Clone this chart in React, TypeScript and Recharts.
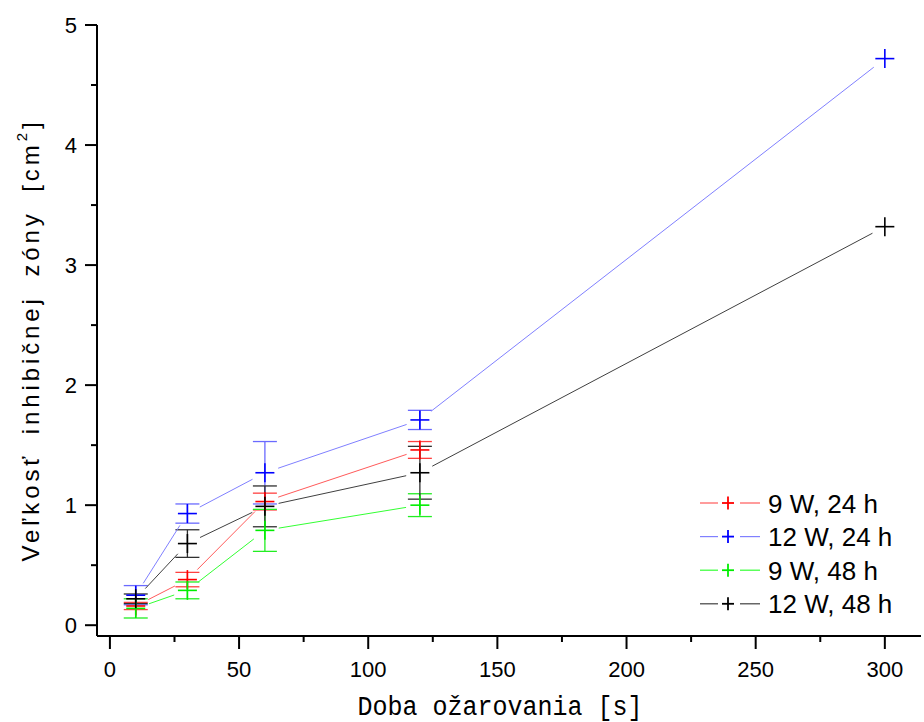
import React from 'react';
import { ScatterChart, Scatter, XAxis, YAxis, ErrorBar, Legend } from 'recharts';

// ---- data ----
const times = [10, 30, 60, 120, 300];
const seriesNames = ['9 W, 24 h', '12 W, 24 h', '9 W, 48 h', '12 W, 48 h'];
const w9h24 = [0.16, 0.38, 1.03, 1.46];
const w9h24Err = [0.03, 0.06, 0.07, 0.07];
const w12h24 = [0.25, 0.93, 1.27, 1.71, 4.72];
const w12h24Err = [0.08, 0.08, 0.26, 0.08, 0];
const w9h48 = [0.14, 0.29, 0.79, 1.0];
const w9h48Err = [0.08, 0.07, 0.175, 0.095];
const w12h48 = [0.22, 0.68, 0.99, 1.27, 3.32];
const w12h48Err = [0.04, 0.115, 0.17, 0.22, 0];
const xTicks = [0, 25, 50, 75, 100, 125, 150, 175, 200, 225, 250, 275, 300];
const yTicks = [0, 0.5, 1, 1.5, 2, 2.5, 3, 3.5, 4, 4.5, 5];

const markerColors = ['#ff0000', '#0000ff', '#00ee00', '#000000'];
const lineColors = ['#ff5a5a', '#8080ff', '#33ff33', '#404040'];
const errColors = ['#ff4040', '#6a6aff', '#22ee22', '#303030'];

const build = (vals: number[], errs: number[]) =>
  vals.map((v, i) => ({ x: times[i], y: v, err: errs[i] }));

const seriesData = [
  build(w9h24, w9h24Err),
  build(w12h24, w12h24Err),
  build(w9h48, w9h48Err),
  build(w12h48, w12h48Err),
];

const FONT = '"Liberation Sans", Arial, sans-serif';

const makeGapLine = (color: string, gap: number) => (props: any) => {
  const pts = (props.points || []) as { x: number; y: number }[];
  const segs: React.ReactNode[] = [];
  for (let i = 0; i < pts.length - 1; i++) {
    const p = pts[i];
    const q = pts[i + 1];
    const dx = q.x - p.x;
    const dy = q.y - p.y;
    const len = Math.sqrt(dx * dx + dy * dy);
    if (len <= 2 * gap) continue;
    const ux = dx / len;
    const uy = dy / len;
    segs.push(
      <line
        key={i}
        x1={p.x + ux * gap}
        y1={p.y + uy * gap}
        x2={q.x - ux * gap}
        y2={q.y - uy * gap}
        stroke={color}
        strokeWidth={1}
      />
    );
  }
  return <g>{segs}</g>;
};

const makeCross = (color: string, half: number) => (props: any) => {
  const { cx, cy } = props;
  return (
    <g>
      <line x1={cx - half} y1={cy} x2={cx + half} y2={cy} stroke={color} strokeWidth={1.6} />
      <line x1={cx} y1={cy - half} x2={cx} y2={cy + half} stroke={color} strokeWidth={1.6} />
    </g>
  );
};

const X_TICK = 13;
const X_MARGIN = 11;
const Y_TICK = 12;
const Y_MARGIN = 8;

const XTick = (props: any) => {
  const { x, y, payload } = props;
  const axisY = y - X_TICK - X_MARGIN;
  const v = payload.value;
  const major = v % 50 === 0;
  return (
    <g>
      <line x1={x} y1={axisY} x2={x} y2={axisY + (major ? 13 : 6)} stroke="#000" strokeWidth={2} />
      {major && (
        <text x={x} y={axisY + 41} textAnchor="middle" fontSize={22} fontFamily={FONT} fill="#000">
          {v}
        </text>
      )}
    </g>
  );
};

const YTick = (props: any) => {
  const { x, y, payload } = props;
  const axisX = x + Y_TICK + Y_MARGIN;
  const v = payload.value;
  const major = v % 1 === 0;
  return (
    <g>
      <line x1={axisX} y1={y} x2={axisX - (major ? 12 : 6)} y2={y} stroke="#000" strokeWidth={2} />
      {major && (
        <text x={axisX - 20} y={y + 8} textAnchor="end" fontSize={22} fontFamily={FONT} fill="#000">
          {v}
        </text>
      )}
    </g>
  );
};

const XTitle = () => (
  <text
    x={500}
    y={715}
    textAnchor="middle"
    fontSize={27}
    fontFamily='"Liberation Mono", "DejaVu Sans Mono", monospace'
    textLength={285}
    lengthAdjust="spacingAndGlyphs"
    fill="#000"
  >
    Doba ožarovania [s]
  </text>
);

const YTitle = () => (
  <text
    x={30}
    y={340}
    transform="rotate(-90 30 340)"
    textAnchor="middle"
    dominantBaseline="central"
    fontSize={24}
    fontFamily={FONT}
    letterSpacing={3.9}
    wordSpacing={8}
    fill="#000"
  >
    <tspan>Veľkosť inhibičnej zóny [cm</tspan>
    <tspan fontSize={15} dy={-9}>2</tspan>
    <tspan dy={9}>]</tspan>
  </text>
);

const LegendContent = () => (
  <svg width={225} height={140}>
    {seriesNames.map((name, i) => {
      const cy = 20 + i * 33.6;
      return (
        <g key={name}>
          <line x1={5} y1={cy} x2={23} y2={cy} stroke={lineColors[i]} strokeWidth={1.2} />
          <line x1={27} y1={cy} x2={39} y2={cy} stroke={markerColors[i]} strokeWidth={1.8} />
          <line x1={33} y1={cy - 6.5} x2={33} y2={cy + 6.5} stroke={markerColors[i]} strokeWidth={1.8} />
          <line x1={45} y1={cy} x2={65} y2={cy} stroke={lineColors[i]} strokeWidth={1.2} />
          <text x={73} y={cy + 9.5} fontSize={26} fontFamily={FONT} fill="#000">
            {name}
          </text>
        </g>
      );
    })}
  </svg>
);

export default function App() {
  return (
    <div style={{ position: 'absolute', left: 0, top: 0, width: 924, height: 722, background: '#fff' }}>
      <ScatterChart width={924} height={722} margin={{ top: 25, right: 3, bottom: 36, left: 37 }}>
        <XAxis
          type="number"
          dataKey="x"
          domain={[-5, 314]}
          ticks={xTicks}
          allowDataOverflow
          interval={0}
          height={50}
          tickSize={X_TICK}
          tickMargin={X_MARGIN}
          tickLine={false}
          tick={<XTick />}
          axisLine={{ stroke: '#000', strokeWidth: 2 }}
          label={<XTitle />}
        />
        <YAxis
          type="number"
          dataKey="y"
          domain={[-0.09, 5]}
          ticks={yTicks}
          allowDataOverflow
          interval={0}
          width={60}
          tickSize={Y_TICK}
          tickMargin={Y_MARGIN}
          tickLine={false}
          tick={<YTick />}
          axisLine={{ stroke: '#000', strokeWidth: 2 }}
          label={<YTitle />}
        />
        <XAxis
          xAxisId="top"
          orientation="top"
          type="number"
          domain={[-5, 314]}
          allowDataOverflow
          height={0}
          tick={false}
          tickLine={false}
          axisLine={{ stroke: '#000', strokeWidth: 2 }}
        />
        <YAxis
          yAxisId="right"
          orientation="right"
          type="number"
          domain={[-0.09, 5]}
          allowDataOverflow
          width={0}
          tick={false}
          tickLine={false}
          axisLine={{ stroke: '#000', strokeWidth: 2 }}
        />
        <Legend
          layout="vertical"
          align="center"
          verticalAlign="middle"
          wrapperStyle={{ position: 'absolute', left: 695, top: 483, width: 225, height: 140 }}
          content={<LegendContent />}
        />
        {seriesData.map((d, i) => (
          <Scatter
            key={seriesNames[i]}
            name={seriesNames[i]}
            data={d}
            fill={markerColors[i]}
            line={makeGapLine(lineColors[i], 14)}
            shape={makeCross(markerColors[i], 9.5)}
            isAnimationActive={false}
          >
            <ErrorBar dataKey="err" direction="y" width={12} stroke={errColors[i]} strokeWidth={1.3} isAnimationActive={false} />
          </Scatter>
        ))}
      </ScatterChart>
    </div>
  );
}
